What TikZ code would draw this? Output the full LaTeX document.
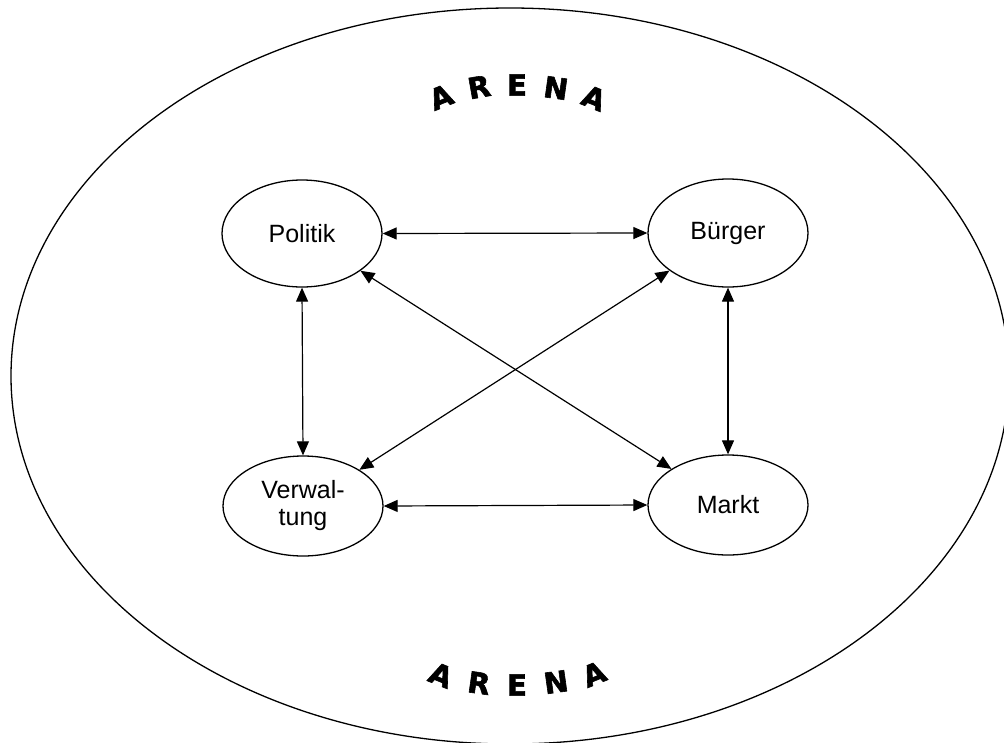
\documentclass[tikz,border=0pt]{standalone}
\usepackage{fontspec}
\setmainfont{Liberation Sans}
\newfontfamily\arenafont[FakeBold=2]{DejaVu Sans Bold}
\usetikzlibrary{arrows.meta,shapes.geometric}
\tikzset{
  >={Triangle[length=14pt,width=12pt]},
  actor/.style={ellipse,draw,line width=1.3pt,minimum width=160pt,inner sep=0pt,
    font=\fontsize{25pt}{27pt}\selectfont,align=center},
  link/.style={<->,line width=1.2pt},
  letter/.style={font=\arenafont\fontsize{29pt}{29pt}\selectfont,inner sep=0pt}
}
\begin{document}
\begin{tikzpicture}[x=1pt,y=-1pt]
\useasboundingbox (0,0) rectangle (1004,742);
\begin{scope}
\clip (0,0) rectangle (1004,742);
\draw[line width=1.3pt] (510,376) ellipse [x radius=499, y radius=368];
\end{scope}
\node[actor,minimum height=107pt] (P) at (302,233.5) {Politik};
\node[actor,minimum height=108pt] (B) at (728,233) {Bürger};
\node[actor,minimum height=100pt] (V) at (303,506) {Verwal-\\tung};
\node[actor,minimum height=100pt] (M) at (728,505) {Markt};
\draw[link] (P.east) -- (B.west);
\draw[link] (P.south) -- (V.north);
\draw[link] (B.south) -- (M.north);
\draw[link] (V.east) -- (M.west);
\draw[link] (P) -- (M);
\draw[link] (B) -- (V);
% top ARENA
\node[letter,rotate=22] (t1) at (441,97) {A};
\node[letter,rotate=10] (t2) at (479,87) {R};
\node[letter] (t3) at (517,85) {E};
\node[letter,rotate=-8] (t4) at (556,88) {N};
\node[letter,rotate=-22] (t5) at (594,98) {A};
% bottom ARENA
\node[letter,rotate=-22] (b1) at (441,675) {A};
\node[letter,rotate=-8] (b2) at (479,683) {R};
\node[letter] (b3) at (517,685) {E};
\node[letter,rotate=8] (b4) at (556,682) {N};
\node[letter,rotate=22] (b5) at (594,674) {A};
\end{tikzpicture}
\end{document}
